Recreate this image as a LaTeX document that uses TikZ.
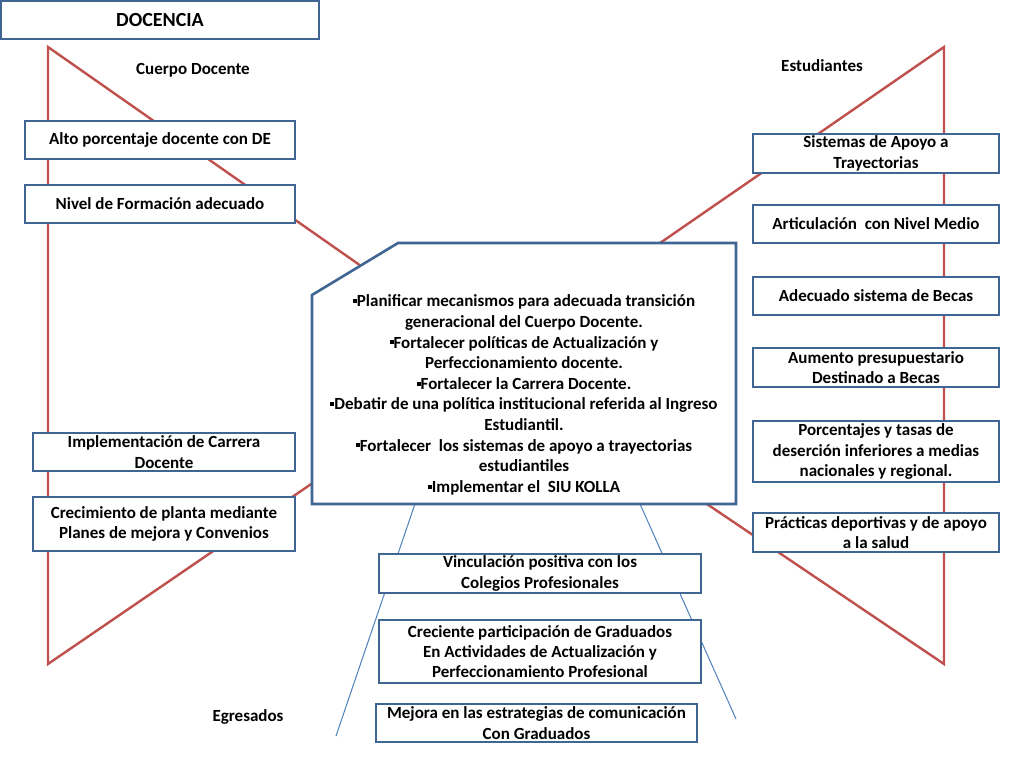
\documentclass[tikz,border=0pt]{standalone}
\usepackage{fontspec}
\setmainfont{Carlito}
\definecolor{boxblue}{HTML}{3F6593}
\definecolor{tri}{HTML}{C0504D}
\definecolor{thinblue}{HTML}{4F81BD}
\newcommand{\sqb}{\raisebox{0.45ex}{\rule{4pt}{4pt}}}
\begin{document}
\begin{tikzpicture}[x=1pt,y=-1pt,
  txt/.style={font=\bfseries\fontsize{17}{20.3}\selectfont,align=center,inner sep=0pt},
  box/.style={txt,draw=boxblue,line width=2.6pt,fill=white},
  redline/.style={draw=tri,line width=2.4pt,line join=miter},
  blueline/.style={draw=thinblue,line width=1pt}]
\useasboundingbox[fill=white] (0,0) rectangle (1024,768);

% triangles (behind everything)
\coordinate (LT) at (48,47);
\coordinate (LB) at (48,664);
\coordinate (LA) at (494,359);
\coordinate (RT) at (944,47);
\coordinate (RB) at (944,664);
\coordinate (RA) at (492,359);
\draw[redline] (LT) -- (LA) -- (LB) -- cycle;
\draw[redline] (RT) -- (RA) -- (RB) -- cycle;

\coordinate (EA1) at (418,495);
\coordinate (EL) at (336,736);
\coordinate (EA2) at (636,495);
\coordinate (ER) at (736,719);
\draw[blueline] (EA1) -- (EL);
\draw[blueline] (EA2) -- (ER);

% title
\node[box,minimum width=318pt,minimum height=38pt,font=\bfseries\fontsize{20}{22}\selectfont] (doc) at (160,20) {DOCENCIA};

\node[txt] (cuerpo) at (193,70) {Cuerpo Docente};
\node[txt] (estud) at (822,66) {Estudiantes};
\node[txt] (egres) at (248,717) {Egresados};

% left boxes
\node[box,minimum width=270pt,minimum height=38pt] (alto) at (160,140) {Alto porcentaje docente con DE};
\node[box,minimum width=270pt,minimum height=38pt] (nivel) at (160,204) {Nivel de Formación adecuado};
\node[box,minimum width=262pt,minimum height=38pt] (impl) at (164,452) {Implementación de Carrera\\Docente};
\node[box,minimum width=262pt,minimum height=54pt] (crec) at (164,524) {Crecimiento de planta mediante\\Planes de mejora y Convenios};

% right boxes
\node[box,minimum width=246pt,minimum height=39pt] (sist) at (876,153.5) {Sistemas de Apoyo a\\Trayectorias};
\node[box,minimum width=246pt,minimum height=38pt] (artic) at (876,224) {Articulación~ con Nivel Medio};
\node[box,minimum width=246pt,minimum height=38pt] (becas) at (876,296) {Adecuado sistema de Becas};
\node[box,minimum width=246pt,minimum height=39pt] (aum) at (876,367.5) {Aumento presupuestario\\Destinado a Becas};
\node[box,minimum width=246pt,minimum height=61pt] (porc) at (876,451.5) {Porcentajes y tasas de\\deserción inferiores a medias\\nacionales y regional.};
\node[box,minimum width=246pt,minimum height=39pt] (pract) at (876,532.5) {Prácticas deportivas y de apoyo\\a la salud};

% bottom boxes
\node[box,minimum width=322pt,minimum height=39pt] (vinc) at (540,573.5) {Vinculación positiva con los\\Colegios Profesionales};
\node[box,minimum width=322pt,minimum height=63pt] (part) at (540,651.5) {Creciente participación de Graduados\\En Actividades de Actualización y\\Perfeccionamiento Profesional};
\node[box,minimum width=321pt,minimum height=38pt] (mejora) at (536.5,723) {Mejora en las estrategias de comunicación\\Con Graduados};

% central box
\coordinate (C1) at (312,295);
\coordinate (C2) at (398,243);
\coordinate (C3) at (736,243);
\coordinate (C4) at (736,504);
\coordinate (C5) at (312,504);
\draw[draw=boxblue,line width=2.6pt,fill=white,line join=miter] (C1) -- (C2) -- (C3) -- (C4) -- (C5) -- cycle;
\node[txt,font=\bfseries\fontsize{17}{20.6}\selectfont] (plan) at (524,395) {\sqb Planificar mecanismos para adecuada transición\\generacional del Cuerpo Docente.\\
\sqb Fortalecer políticas de Actualización y\\Perfeccionamiento docente.\\
\sqb Fortalecer la Carrera Docente.\\
\sqb Debatir de una política institucional referida al Ingreso\\Estudiantil.\\
\sqb Fortalecer~ los sistemas de apoyo a trayectorias\\estudiantiles\\
\sqb Implementar el~ SIU KOLLA};
\end{tikzpicture}
\end{document}
